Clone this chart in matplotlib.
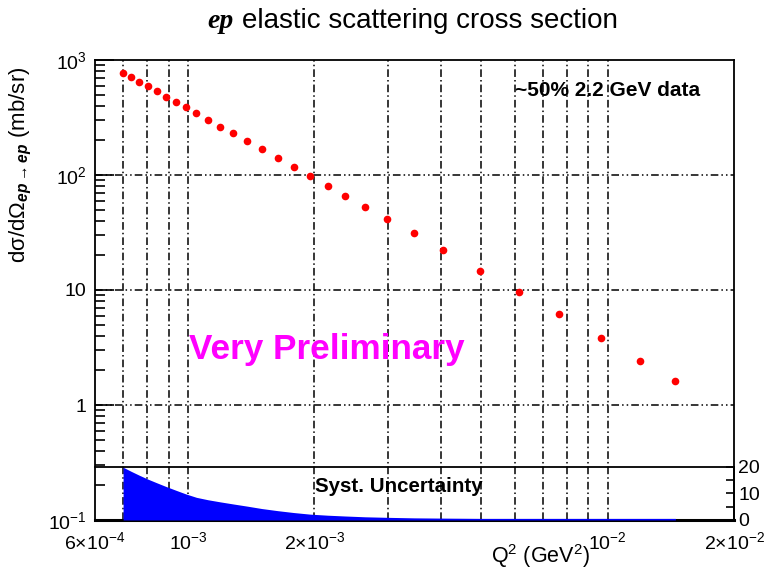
import matplotlib
matplotlib.use('Agg')
import matplotlib.pyplot as plt
from matplotlib.ticker import FixedLocator, NullLocator, LogLocator, NullFormatter

plt.rcParams['font.family'] = ['Liberation Sans', 'DejaVu Sans']
plt.rcParams['mathtext.fontset'] = 'custom'
plt.rcParams['mathtext.rm'] = 'Liberation Sans'
plt.rcParams['mathtext.it'] = 'Liberation Sans:italic'
plt.rcParams['mathtext.bf'] = 'Liberation Sans:bold'
plt.rcParams['mathtext.bfit'] = 'Liberation Sans:italic:bold'

# === DATA ===
q2 = [7.00e-4, 7.33e-4, 7.65e-4, 8.03e-4, 8.41e-4, 8.85e-4, 9.34e-4, 9.87e-4,
      1.047e-3, 1.115e-3, 1.193e-3, 1.283e-3, 1.383e-3, 1.498e-3, 1.635e-3,
      1.785e-3, 1.952e-3, 2.150e-3, 2.368e-3, 2.642e-3, 2.985e-3, 3.453e-3,
      4.052e-3, 4.972e-3, 6.13e-3, 7.67e-3, 9.64e-3, 1.197e-2, 1.450e-2]
xsec = [776, 707, 648, 594, 538, 480, 434, 388, 344, 301, 263, 231, 198, 168,
        141, 118, 98.0, 81.0, 66.1, 53.0, 41.4, 31.1, 22.3, 14.7, 9.66, 6.15,
        3.80, 2.43, 1.62]
# systematic uncertainty (%)
syst = [19.8, 18.2, 16.8, 15.3, 14.0, 12.6, 11.2, 9.8, 8.5, 7.6, 6.8, 6.0, 5.2,
        4.3, 3.5, 2.8, 2.2, 1.8, 1.5, 1.2, 1.0, 0.8, 0.7, 0.6, 0.6, 0.6, 0.6,
        0.6, 0.6]

x_ticks = [6e-4, 1e-3, 2e-3, 1e-2, 2e-2]
x_ticklabels = ['6$\\times$10$^{-4}$', '10$^{-3}$', '2$\\times$10$^{-3}$',
                '10$^{-2}$', '2$\\times$10$^{-2}$']
y_ticks = [0.1, 1, 10, 100, 1000]
y_ticklabels = ['10$^{-1}$', '1', '10', '10$^{2}$', '10$^{3}$']
x_grid = [7e-4, 8e-4, 9e-4, 1e-3, 2e-3, 3e-3, 4e-3, 5e-3, 6e-3, 7e-3, 8e-3,
          9e-3, 1e-2]
y_grid = [1, 10, 100]

W, H = 776, 573
fig = plt.figure(figsize=(W / 100, H / 100), dpi=100)

# main panel
L, R, T, B = 95, 734, 60, 520
ax = fig.add_axes([L / W, (H - B) / H, (R - L) / W, (B - T) / H])
ax.set_xscale('log')
ax.set_yscale('log')
ax.set_xlim(6e-4, 2e-2)
ax.set_ylim(0.1, 1000)

for xg in x_grid:
    ax.axvline(xg, color='black', lw=1.1, ls=(0, (5, 2, 1, 2)), zorder=1)
for yg in y_grid:
    ax.axhline(yg, color='black', lw=1.1, ls=(0, (5, 2, 1, 2, 1, 2)), zorder=1)

ax.plot(q2, xsec, 'o', color='red', markersize=5.5, markeredgewidth=0,
        zorder=3)

ax.xaxis.set_major_locator(FixedLocator(x_ticks))
ax.xaxis.set_minor_locator(NullLocator())
ax.set_xticklabels(x_ticklabels)
ax.tick_params(axis='x', which='both', length=0, pad=8, labelsize=14)

ax.yaxis.set_major_locator(FixedLocator(y_ticks))
ax.yaxis.set_minor_locator(LogLocator(base=10, subs=range(2, 10)))
ax.yaxis.set_minor_formatter(NullFormatter())
ax.set_yticklabels(y_ticklabels)
ax.tick_params(axis='y', which='major', direction='in', length=14, width=1.2,
               pad=6, labelsize=14)
ax.tick_params(axis='y', which='minor', direction='in', length=7, width=1.2)
for s in ax.spines.values():
    s.set_linewidth(1.3)
ax.spines['bottom'].set_linewidth(2.2)

ax.text(515 / W, 1 - 90 / H, '~50% 2.2 GeV data', transform=fig.transFigure,
        fontsize=15, fontweight='bold', va='center', ha='left', zorder=5)
ax.text(189 / W, 1 - 349 / H, 'Very Preliminary', transform=fig.transFigure,
        fontsize=25.3, fontweight='bold', color='magenta', va='center',
        ha='left', zorder=5)

# systematic uncertainty band overlaid at the bottom
S_top = 466.7
ax2 = fig.add_axes([L / W, (H - B) / H, (R - L) / W, (B - S_top) / H])
ax2.patch.set_alpha(0)
ax2.set_xscale('log')
ax2.set_xlim(6e-4, 2e-2)
ax2.set_ylim(0, 20)
ax2.fill_between(q2, 0, syst, color='blue', lw=0, zorder=2)
ax2.xaxis.set_major_locator(NullLocator())
ax2.xaxis.set_minor_locator(NullLocator())
ax2.yaxis.tick_right()
ax2.set_yticks([0, 10, 20])
ax2.set_yticks([5, 15], minor=True)
ax2.tick_params(axis='y', which='both', direction='in', length=6, width=1.2,
                pad=3, labelsize=14)
for side in ['left', 'bottom']:
    ax2.spines[side].set_visible(False)
for side in ['top', 'right']:
    ax2.spines[side].set_linewidth(1.3)
ax2.text(315 / W, 1 - 486 / H, 'Syst. Uncertainty', transform=fig.transFigure,
         fontsize=14.8, fontweight='bold', va='center', ha='left', zorder=5)

# title: bold-italic "ep" followed by plain text
fig.text(234 / W, 1 - 28 / H, 'ep', family='Liberation Serif',
         fontweight='bold', style='italic', fontsize=20, ha='right',
         va='baseline')
fig.text(242 / W, 1 - 28 / H, 'elastic scattering cross section',
         fontsize=20, ha='left', va='baseline')

fig.text(21 / W, 1 - 165 / H,
         'd\u03c3/d\u03a9$_{\\mathbfit{ep\\rightarrow ep}}$ (mb/sr)',
         rotation=90, fontsize=16, ha='center', va='center')
fig.text(540 / W, 1 - 556 / H, 'Q$^{2}$ (GeV$^{2}$)', fontsize=15.5,
         ha='center', va='center')

fig.savefig('out.png', dpi=100)
